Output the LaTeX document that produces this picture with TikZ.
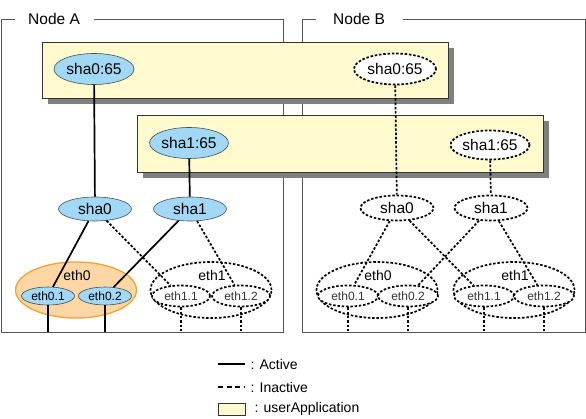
\documentclass[tikz,border=0pt]{standalone}
\usepackage{fontspec}
\setmainfont{Liberation Sans}
\usetikzlibrary{shapes.geometric}
\definecolor{appyellow}{RGB}{255,251,206}
\definecolor{shablue}{RGB}{160,216,245}
\definecolor{ethorange}{RGB}{252,214,165}
\definecolor{ethedge}{RGB}{240,165,50}
\definecolor{framegray}{RGB}{85,85,85}
\tikzset{
  big/.style={font=\fontsize{15.5}{18}\selectfont},
  mid/.style={font=\fontsize{14}{16}\selectfont},
  small/.style={font=\fontsize{12}{14}\selectfont},
  act/.style={ellipse, draw=black!70, fill=shablue, line width=0.6pt, inner sep=0pt},
  inact/.style={ellipse, draw=black, fill=white, line width=1.7pt, dash pattern=on 2.5pt off 1.8pt, inner sep=0pt},
  inline/.style={line width=1.7pt, dash pattern=on 2.5pt off 1.8pt},
  actline/.style={line width=1.7pt},
  appbox/.style={fill=appyellow, draw=black!80, line width=0.8pt},
}

\begin{document}
\begin{tikzpicture}[x=1pt, y=-1pt]
  \useasboundingbox (0,0) rectangle (586,419);
  % Frames
  \draw[framegray, line width=0.9pt] (15,19) -- (1,19) -- (1,332) -- (283,332) -- (283,19) -- (94,19);
  \node[big, anchor=west, inner sep=0pt] (nodeA) at (28,19) {Node A};
  \draw[framegray, line width=0.9pt] (316,19) -- (302,19) -- (302,332) -- (585,332) -- (585,19) -- (403,19);
  \node[big, anchor=west, inner sep=0pt] (nodeB) at (333,19) {Node B};
  % userApplications
  \fill[black!50] (48,48) rectangle (454,104);
  \draw[appbox] (42,42) rectangle (448,98);
  \fill[black!50] (143,121) rectangle (549,178);
  \draw[appbox] (137,115) rectangle (543,172);
  % Node A
  \node[act, big, minimum width=80, minimum height=31] (aApp0) at (94,69) {sha0:65};
  \node[act, big, minimum width=79, minimum height=31] (aApp1) at (189,143) {sha1:65};
  \node[act, big, minimum width=73, minimum height=24] (aSha0) at (95,209) {sha0};
  \node[act, big, minimum width=73, minimum height=24] (aSha1) at (190,209) {sha1};
  \node[ellipse, draw=ethedge, fill=ethorange, line width=1.3pt, minimum width=121, minimum height=56] (aEth0) at (76,290) {};
  \node[mid] (aEth0t) at (77,275) {eth0};
  \node[act, small, minimum width=53, minimum height=18] (aEth01) at (48,296) {eth0.1};
  \node[act, small, minimum width=53, minimum height=18] (aEth02) at (105,296) {eth0.2};
  \node[inact, minimum width=121, minimum height=56] (aEth1) at (211,290) {};
  \node[mid] (aEth1t) at (212,275) {eth1};
  \node[inact, small, text=black!80, minimum width=58, minimum height=21] (aEth11) at (181,296) {eth1.1};
  \node[inact, small, text=black!80, minimum width=58, minimum height=21] (aEth12) at (241,296) {eth1.2};
  % Node B
  \node[inact, big, minimum width=82, minimum height=31] (bApp0) at (395,69) {sha0:65};
  \node[inact, big, minimum width=79, minimum height=29] (bApp1) at (490,145) {sha1:65};
  \node[inact, big, minimum width=73, minimum height=25] (bSha0) at (397,208) {sha0};
  \node[inact, big, minimum width=73, minimum height=25] (bSha1) at (491,208) {sha1};
  \node[inact, minimum width=121, minimum height=56] (bEth0) at (377,290) {};
  \node[mid] (bEth0t) at (378,275) {eth0};
  \node[inact, small, text=black!80, minimum width=60, minimum height=21] (bEth01) at (348,296) {eth0.1};
  \node[inact, small, text=black!80, minimum width=60, minimum height=21] (bEth02) at (408,296) {eth0.2};
  \node[inact, minimum width=121, minimum height=56] (bEth1) at (514,290) {};
  \node[mid] (bEth1t) at (515,275) {eth1};
  \node[inact, small, text=black!80, minimum width=60, minimum height=21] (bEth11) at (484,296) {eth1.1};
  \node[inact, small, text=black!80, minimum width=60, minimum height=21] (bEth12) at (544,296) {eth1.2};
  % Connectors
  \draw[actline] (aApp0) -- (aSha0);
  \draw[actline] (aApp1) -- (aSha1);
  \draw[actline] (aSha0) -- (aEth01);
  \draw[actline] (aSha1) -- (aEth02);
  \draw[inline] (aSha0) -- (aEth11);
  \draw[inline] (aSha1) -- (aEth12);
  \draw[inline] (bApp0) -- (bSha0);
  \draw[inline] (bApp1) -- (bSha1);
  \draw[inline] (bSha0) -- (bEth01);
  \draw[inline] (bSha0) -- (bEth11);
  \draw[inline] (bSha1) -- (bEth02);
  \draw[inline] (bSha1) -- (bEth12);
  % Lines to the outside
  \foreach \n in {aEth01, aEth02}
    \draw[actline] (\n.south) -- (\n.south |- 0,332);
  \foreach \n in {aEth11, aEth12, bEth01, bEth02, bEth11, bEth12}
    \draw[inline] (\n.south) -- (\n.south |- 0,332);
  % Legend
  \coordinate (actL) at (218,364);
  \coordinate (actR) at (245,364);
  \draw[actline] (actL) -- (actR);
  \node[mid, anchor=west] (actT) at (247,364) {: Active};
  \coordinate (inL) at (218,387);
  \coordinate (inR) at (245,387);
  \draw[line width=1.7pt, dash pattern=on 5pt off 3.5pt] (inL) -- (inR);
  \node[mid, anchor=west] (inT) at (247,387) {: Inactive};
  \draw[appbox] (218,403) rectangle (245,415);
  \node[mid, anchor=west] (appT) at (251,409) {: userApplication};
\end{tikzpicture}
\end{document}
